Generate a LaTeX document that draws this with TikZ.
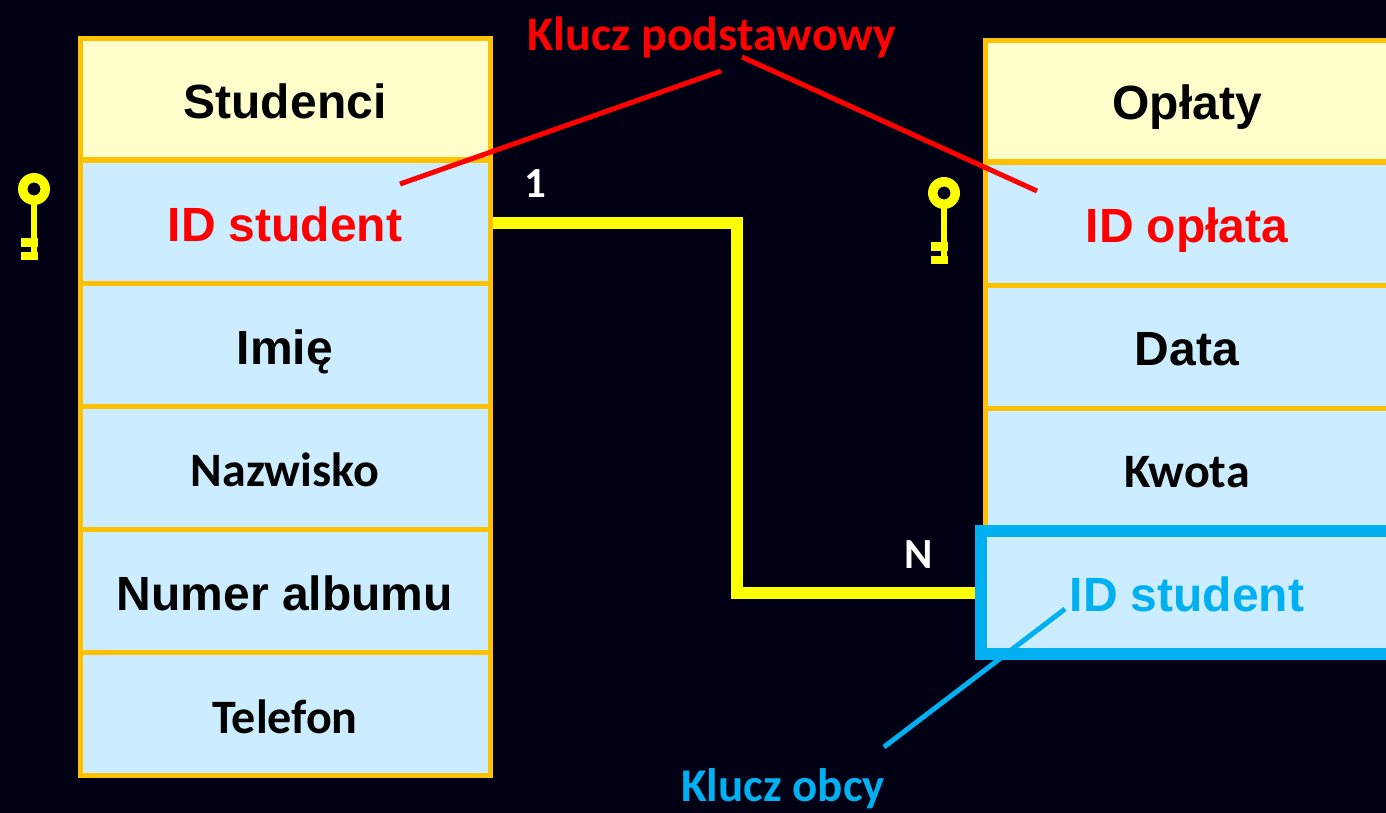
\documentclass[tikz,border=0pt]{standalone}
\usepackage{fontspec}
\setmainfont{Liberation Sans}
\newfontfamily\calibri{Carlito}
\usepackage{tikz}
\definecolor{tlo}{HTML}{000014}
\definecolor{ramka}{HTML}{FFC000}
\definecolor{naglowek}{HTML}{FFFFCC}
\definecolor{wiersz}{HTML}{CCECFF}
\definecolor{obcy}{HTML}{00B0F0}
\definecolor{zolty}{HTML}{FFFF00}
\tikzset{
    head/.style={draw=ramka,line width=5pt,fill=naglowek,minimum width=410pt,minimum height=121pt,text height=38pt,text depth=0pt,font=\fontsize{48}{48}\bfseries},
    field/.style={draw=ramka,line width=5pt,fill=wiersz,minimum width=410pt,minimum height=123pt,text height=38pt,text depth=0pt,font=\fontsize{48}{48}\bfseries},
    wide/.style={minimum width=403pt,text height=36pt},
    cal/.style={font=\calibri\fontsize{48}{48}\bfseries},
    klucz/.pic={
        \fill[zolty,even odd rule] (0,0) circle (16) (0,0) circle (6.5);
        \fill[zolty] (-3,14) rectangle (3,71);
        \fill[zolty] (-13,49) rectangle (4,58);
        \fill[zolty] (-13,63) rectangle (4,71);
    }
}
\begin{document}
\begin{tikzpicture}[x=1pt,y=-1pt]
    \fill[tlo] (0,0) rectangle (1386,813);
    \useasboundingbox (0,0) rectangle (1386,813);
    \clip (0,0) rectangle (1386,813);
    % tabela Studenci
    \node[head] (studenci) at (285,99.5) {Studenci};
    \node[field,text=red] (idstudent) at (285,222.5) {ID student};
    \node[field] (imie) at (285,345) {Imię};
    \node[field,cal] (nazwisko) at (285,467.5) {Nazwisko};
    \node[field] (album) at (285,591) {Numer albumu};
    \node[field,cal] (telefon) at (285,714) {Telefon};
    % tabela Oplaty
    \node[head,wide] (oplaty) at (1187,101.5) {Opłaty};
    \node[field,wide,text=red] (idoplata) at (1187,224) {ID opłata};
    \node[field,wide] (data) at (1187,347) {Data};
    \node[field,wide,cal] (kwota) at (1187,469.5) {Kwota};
    \node[field,draw=obcy,line width=12pt,text=obcy,minimum width=412pt,anchor=west] (fk) at (975,592.5) {ID student};
    \pic at (34,189) {klucz};
    \pic at (944,193) {klucz};
    % relacja
    \coordinate (zalamanie) at (737,222.5);
    \draw[zolty,line width=12pt] (idstudent.east) -- (zalamanie) |- (fk.west);
    \node[white,font=\calibri\fontsize{43}{43}\bfseries] (jeden) at (535,184) {1};
    \node[white,font=\calibri\fontsize{43}{43}\bfseries] (wiele) at (919,555) {N};
    % etykiety
    \node[red,cal] (podstawowy) at (712,37) {Klucz podstawowy};
    \node[obcy,font=\calibri\fontsize{47}{47}\bfseries] (kluczobcy) at (783,789) {Klucz obcy};
    \coordinate (pk1a) at (721,71);
    \coordinate (pk1b) at (400,184);
    \coordinate (pk2a) at (742,57);
    \coordinate (pk2b) at (1037,191);
    \coordinate (fk1a) at (884,747);
    \coordinate (fk1b) at (1065,609);
    \draw[red,line width=5pt] (pk1a) -- (pk1b);
    \draw[red,line width=5pt] (pk2a) -- (pk2b);
    \draw[obcy,line width=5pt] (fk1a) -- (fk1b);
\end{tikzpicture}
\end{document}
